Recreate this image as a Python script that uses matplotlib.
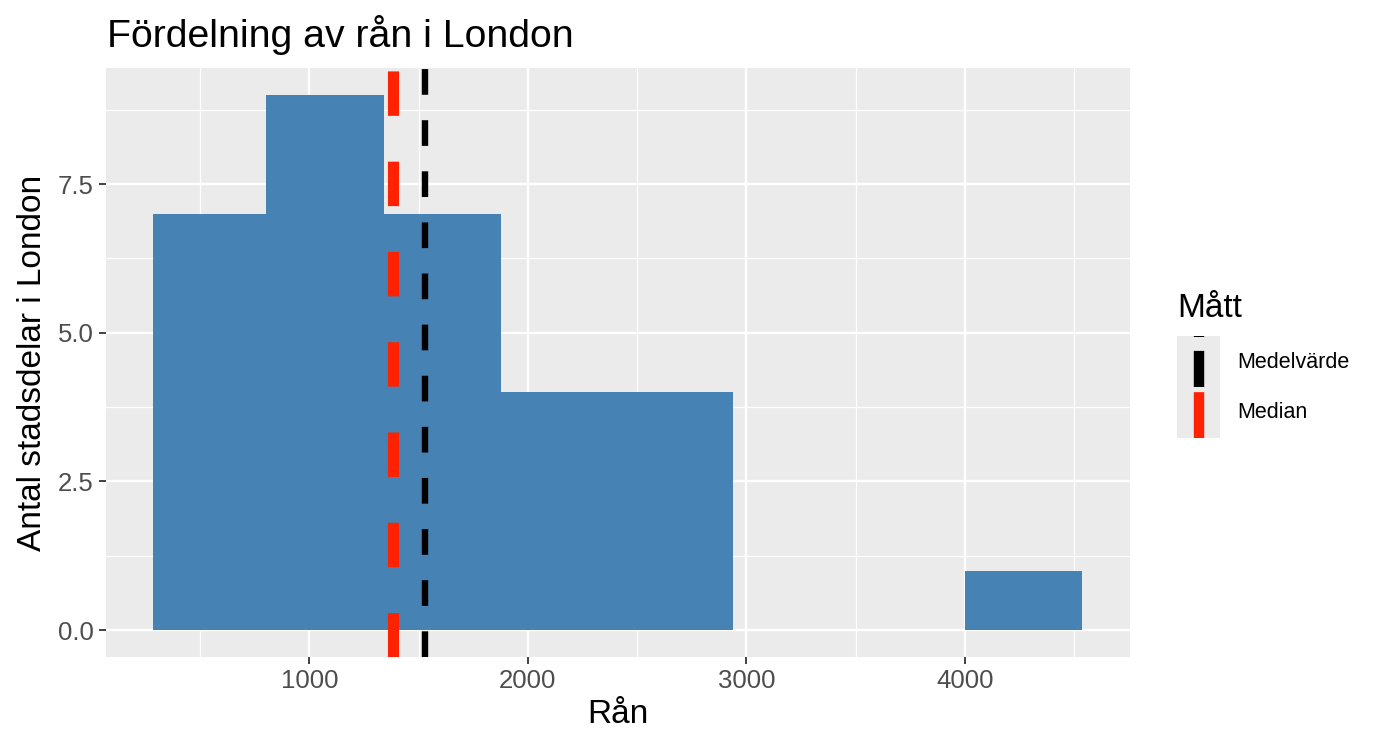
import matplotlib

matplotlib.use("Agg")
import matplotlib.pyplot as plt
from matplotlib.legend_handler import HandlerBase
from matplotlib.lines import Line2D
from matplotlib.patches import Rectangle
from matplotlib.ticker import FixedLocator

# data
bin_edges = [287, 800, 1342, 1878, 2410, 2940, 3470, 4000, 4535]
bin_counts = [7, 9, 7, 4, 4, 0, 0, 1]
mean_value = 1529
median_value = 1385
stat_labels = ["Medelvärde", "Median"]

x_major = [1000, 2000, 3000, 4000]
x_minor = [500, 1500, 2500, 3500, 4500]
y_major = [0.0, 2.5, 5.0, 7.5]
y_minor = [1.25, 3.75, 6.25, 8.75]

BAR_COLOR = "#4682B4"
PANEL_BG = "#EBEBEB"
MEAN_COLOR = "black"
MEDIAN_COLOR = "#FF2200"
TEXT_GREY = "#4D4D4D"
MEAN_DASH = (0, (18.5, 18.3))
MEDIAN_DASH = (0, (32, 33))

plt.rcParams["font.family"] = ["Liberation Sans", "DejaVu Sans"]
plt.rcParams["lines.scale_dashes"] = False


class VLineKey(HandlerBase):
    """ggplot-like vertical legend key on a grey background."""

    def __init__(self, dash, lw, **kwargs):
        super().__init__(**kwargs)
        self.dash = dash
        self.lw = lw

    def create_artists(self, legend, orig_handle, xdescent, ydescent,
                       width, height, fontsize, trans):
        bg = Rectangle((-xdescent, -ydescent), width, height,
                       facecolor=PANEL_BG, edgecolor="none", transform=trans)
        xc = -xdescent + width / 2
        line = Line2D([xc, xc], [-ydescent, -ydescent + height],
                      color=orig_handle.get_color(), linewidth=self.lw,
                      linestyle=self.dash, dash_capstyle="butt",
                      transform=trans)
        return [bg, line]


fig = plt.figure(figsize=(13.97, 7.52), dpi=100)
ax = fig.add_axes([106 / 1397, 1 - 657 / 752, 1024 / 1397, 589 / 752])
ax.set_facecolor(PANEL_BG)

widths = [b - a for a, b in zip(bin_edges[:-1], bin_edges[1:])]
ax.bar(bin_edges[:-1], bin_counts, width=widths, align="edge",
       color=BAR_COLOR, edgecolor="none", zorder=2)

mean_line = ax.axvline(mean_value, color=MEAN_COLOR, linewidth=4.6,
                       linestyle=MEAN_DASH, dash_capstyle="butt", zorder=3)
median_line = ax.axvline(median_value, color=MEDIAN_COLOR, linewidth=8,
                         linestyle=MEDIAN_DASH, dash_capstyle="butt", zorder=3)

ax.set_xlim(70, 4755)
ax.set_ylim(-0.45, 9.45)
ax.xaxis.set_major_locator(FixedLocator(x_major))
ax.xaxis.set_minor_locator(FixedLocator(x_minor))
ax.yaxis.set_major_locator(FixedLocator(y_major))
ax.yaxis.set_minor_locator(FixedLocator(y_minor))
ax.set_yticklabels([f"{v:.1f}" for v in y_major])
ax.grid(which="major", color="white", linewidth=1.7, zorder=0)
ax.grid(which="minor", color="white", linewidth=0.9, zorder=0)
ax.set_axisbelow(True)
for s in ax.spines.values():
    s.set_visible(False)
ax.tick_params(which="major", length=5, width=1.3, color="#333333",
               labelsize=18.5, labelcolor=TEXT_GREY, pad=4)
ax.tick_params(which="minor", length=0)

ax.set_xlabel("Rån", fontsize=24, labelpad=4)
ax.set_ylabel("Antal stadsdelar i London", fontsize=24, labelpad=7)
fig.text(107 / 1397, 1 - 47 / 752, "Fördelning av rån i London",
         fontsize=28.3, ha="left", va="baseline")

# legend: title as its own text so the gap above the keys can be set
fig.text(1177 / 1397, 1 - 317 / 752, "Mått", fontsize=24,
         ha="left", va="baseline")
leg = fig.legend([mean_line, median_line], stat_labels,
                 handler_map={mean_line: VLineKey((0, (26, 10)), 7.5),
                              median_line: VLineKey((0, (33, 10)), 7.5)},
                 loc="upper left", bbox_to_anchor=(1177 / 1397, 1 - 336 / 752),
                 frameon=False, fontsize=15.5, borderpad=0,
                 handlelength=2.0, handleheight=3.25, labelspacing=0.0,
                 handletextpad=0.8, borderaxespad=0)

fig.savefig("out.png", dpi=100, facecolor="white")
